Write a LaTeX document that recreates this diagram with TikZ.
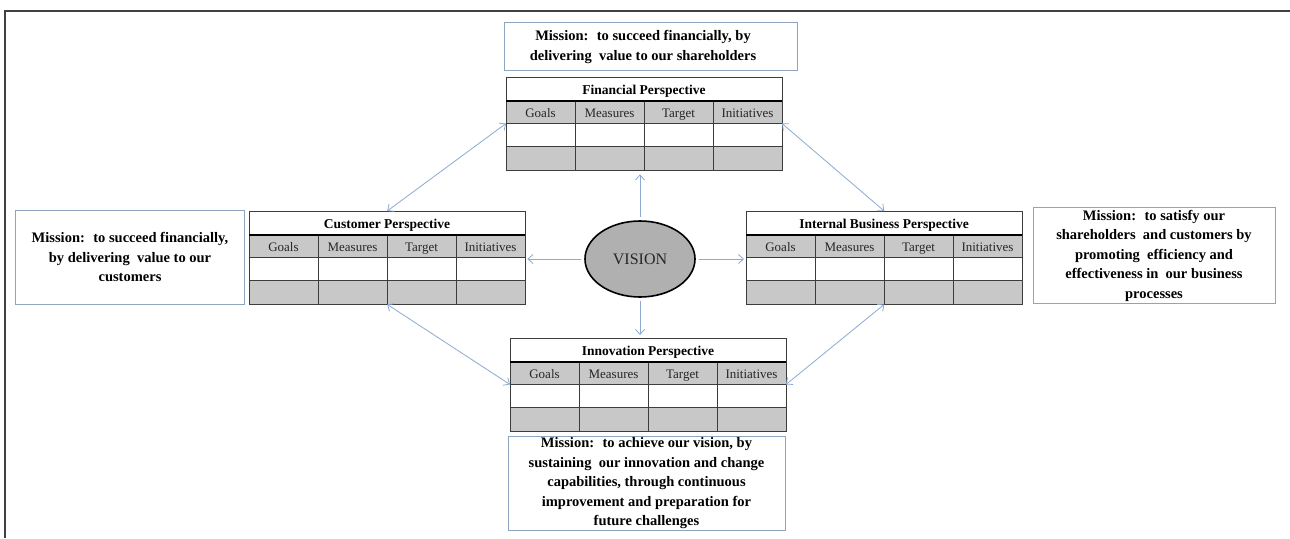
\documentclass[tikz,border=0pt]{standalone}
\usepackage{fontspec}
\setmainfont{Liberation Serif}
\usetikzlibrary{arrows.meta,calc,shapes.geometric}

\definecolor{cellgray}{HTML}{C8C8C8}
\definecolor{rulegray}{HTML}{3C3C3C}
\definecolor{boxblue}{HTML}{8FA5BE}
\definecolor{linkblue}{HTML}{8CAAD2}
\definecolor{visfill}{HTML}{B0B0B0}
\definecolor{framegray}{HTML}{404040}

\tikzset{
  rule/.style={draw=rulegray,line width=0.9pt},
  heavyrule/.style={draw=black,line width=2pt},
  celltext/.style={font=\fontsize{13}{15}\selectfont,inner sep=0,anchor=base,text=black!85},
  titletext/.style={font=\bfseries\fontsize{13.5}{15}\selectfont,inner sep=0,anchor=base},
  missionbox/.style={draw=boxblue,line width=1pt,inner sep=0,fill=white},
  missiontext/.style={font=\bfseries\fontsize{14.5}{19.5}\selectfont,align=center,inner sep=0},
  link/.style={draw=linkblue,line width=0.8pt},
  tip/.style={-{Straight Barb[length=5pt,width=9pt]}},
  twotips/.style={{Straight Barb[length=5pt,width=9pt]}-{Straight Barb[length=5pt,width=9pt]}},
  frameline/.style={draw=framegray,line width=1.5pt},
}

% A perspective table: name, left x, top y, title
\newcommand\bsctable[4]{%
  \begin{scope}[shift={(#2,#3)}]
    \fill[cellgray] (0,24) rectangle (276,46.5) (0,69.5) rectangle (276,93);
    \draw[rule] (0,0) rectangle (276,93);
    \draw[rule] (0,46.5) -- (276,46.5) (0,69.5) -- (276,69.5)
                (69,24) -- (69,93) (138,24) -- (138,93) (207,24) -- (207,93);
    \draw[heavyrule] (0,24) -- (276,24);
    \node[titletext] (#1-title) at (138,17) {#4};
    \node[celltext] (#1-goals) at (34.5,40) {Goals};
    \node[celltext] (#1-measures) at (103.5,40) {Measures};
    \node[celltext] (#1-target) at (172.5,40) {Target};
    \node[celltext] (#1-initiatives) at (241.5,40) {Initiatives};
    \node[inner sep=0,minimum width=276,minimum height=93,anchor=north west] (#1) at (0,0) {};
    \coordinate (#1-lh) at (0,46.5);
    \coordinate (#1-rh) at (276,46.5);
  \end{scope}}

% A mission statement box: name, x0, y0, x1, y1, text centre x, text centre y, text
\newcommand\missionstmt[8]{%
  \node[missionbox,minimum width={#4-#2},minimum height={#5-#3}] (#1) at ({(#2+#4)/2},{(#3+#5)/2}) {};
  \node[missiontext] (#1-text) at (#6,#7) {#8};}

\begin{document}
\begin{tikzpicture}[x=1pt,y=-1pt]
  \useasboundingbox (0,0) rectangle (1290,538);
  \fill[white] (0,0) rectangle (1290,538);

  % outer frame
  \draw[frameline] (5,538) -- (5,11) -- (1290,11);

  % mission statements
  \missionstmt{finmission}{504}{22}{797}{70}{643}{47}{Mission:~ to succeed financially, by\\delivering~ value to our shareholders}
  \missionstmt{cusmission}{15.5}{210}{244}{304}{130}{257}{Mission:~ to succeed financially,\\by delivering~ value to our\\customers}
  \missionstmt{intmission}{1033}{207}{1275}{303}{1154}{255.5}{Mission:~ to satisfy our\\shareholders~ and customers by\\promoting~ efficiency and\\effectiveness in~ our business\\processes}
  \missionstmt{innmission}{508}{436}{785}{530}{646.5}{483.5}{Mission:~ to achieve our vision, by\\sustaining~ our innovation and change\\capabilities, through continuous\\improvement and preparation for\\future challenges}

  % the four perspectives
  \bsctable{fin}{506}{77}{Financial Perspective}
  \bsctable{cus}{249}{211}{Customer Perspective}
  \bsctable{int}{746}{211}{Internal Business Perspective}
  \bsctable{inn}{510}{338}{Innovation Perspective}

  % vision at the centre
  \node[ellipse,draw=black,line width=1.6pt,fill=visfill,minimum width=110,minimum height=76,
        inner sep=0,font=\fontsize{16}{18}\selectfont,text=black!85] (vis) at (640,259) {VISION};

  % links from the vision
  \draw[link,tip,shorten >=4pt,shorten <=3pt] (vis.north) -- (vis.north |- fin.south);
  \draw[link,tip,shorten >=3pt,shorten <=3pt] (vis.south) -- (vis.south |- inn.north);
  \draw[link,tip,shorten >=2pt,shorten <=3pt] (vis.west) -- (vis.west -| cus.east);
  \draw[link,tip,shorten >=2pt,shorten <=3pt] (vis.east) -- (vis.east -| int.west);

  % links between perspectives
  \draw[link,twotips] (fin-lh) -- (cus.north);
  \draw[link,twotips] (fin-rh) -- (int.north);
  \draw[link,twotips] (cus.south) -- (inn-lh);
  \draw[link,twotips] (int.south) -- (inn-rh);
\end{tikzpicture}
\end{document}
